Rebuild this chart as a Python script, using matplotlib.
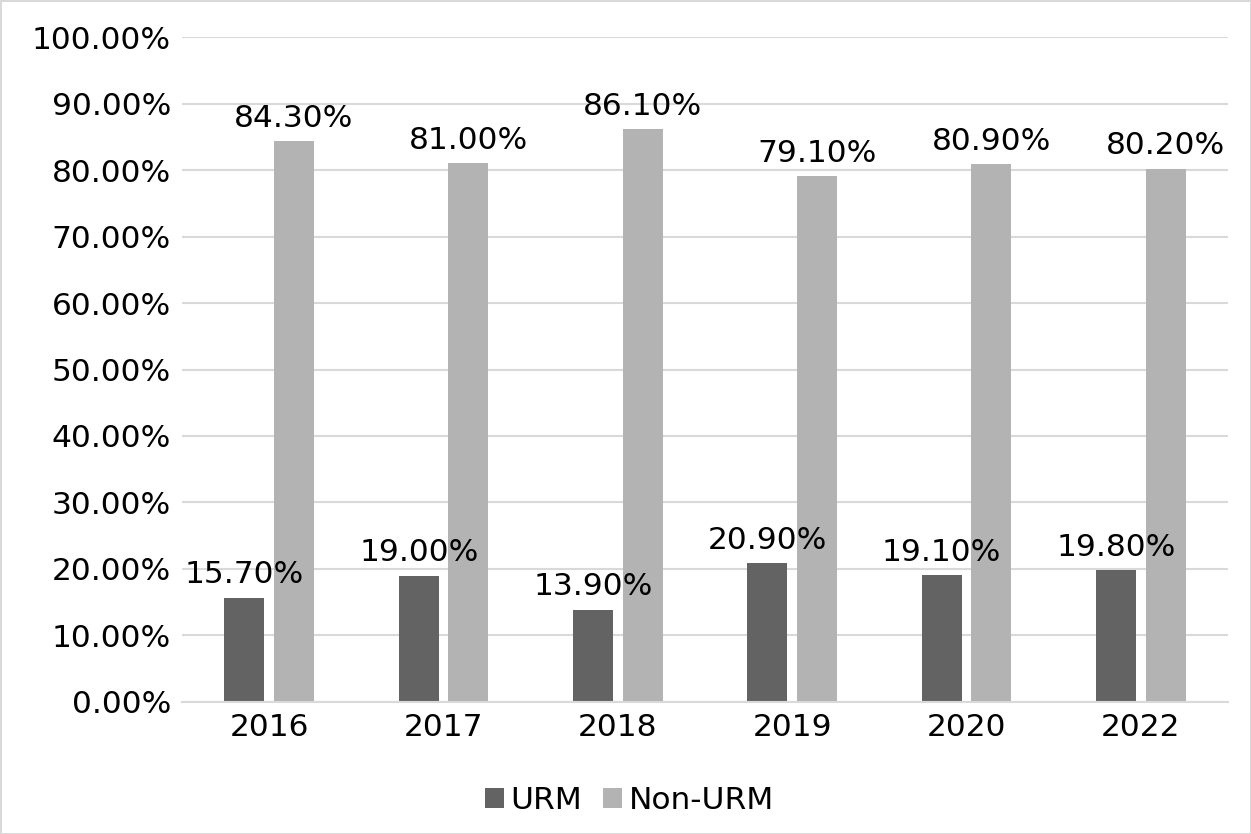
import numpy as np
import matplotlib as mpl
mpl.use('Agg')
import matplotlib.pyplot as plt
from matplotlib.ticker import PercentFormatter

years = ['2016', '2017', '2018', '2019', '2020', '2022']
urm = [15.7, 19.0, 13.9, 20.9, 19.1, 19.8]
non_urm = [84.3, 81.0, 86.1, 79.1, 80.9, 80.2]

plt.rcParams['font.family'] = ['DejaVu Sans']
FS = 22.5

fig = plt.figure(figsize=(12.51, 8.34), dpi=100)
fig.patch.set_edgecolor('#d9d9d9')
fig.patch.set_linewidth(2)
ax = fig.add_axes([0.1455, 0.1583, 0.8361, 0.7973])

x = np.arange(len(years))
w = 0.23
b1 = ax.bar(x - 0.142, urm, w, color='#636363', label='URM')
b2 = ax.bar(x + 0.142, non_urm, w, color='#b3b3b3', label='Non-URM')

# value labels above each bar
for bars, vals in [(b1, urm), (b2, non_urm)]:
    for r, v in zip(bars, vals):
        ax.annotate('%.2f%%' % v, (r.get_x() + r.get_width() / 2, v),
                    xytext=(0, 6), textcoords='offset points',
                    ha='center', va='bottom', fontsize=FS)

ax.set_xlim(-0.5, len(years) - 0.5)
ax.set_ylim(0, 100)
ax.set_yticks(np.arange(0, 101, 10))
ax.yaxis.set_major_formatter(PercentFormatter(decimals=2))
ax.set_xticks(x)
ax.set_xticklabels(years)
ax.tick_params(axis='both', length=0, labelsize=FS)
ax.tick_params(axis='y', pad=8)
ax.tick_params(axis='x', pad=8)
ax.grid(axis='y', color='#d9d9d9', linewidth=1.5)
ax.set_axisbelow(True)
for s in ['top', 'right', 'left']:
    ax.spines[s].set_visible(False)
ax.spines['bottom'].set_color('#d9d9d9')
ax.spines['bottom'].set_linewidth(1.5)

fig.legend(handles=[b1, b2], loc='center', bbox_to_anchor=(0.503, 0.04),
           ncol=2, frameon=False, fontsize=FS, handlelength=0.6,
           handleheight=0.6, handletextpad=0.2, columnspacing=0.7)

fig.savefig('out.png', dpi=100)
